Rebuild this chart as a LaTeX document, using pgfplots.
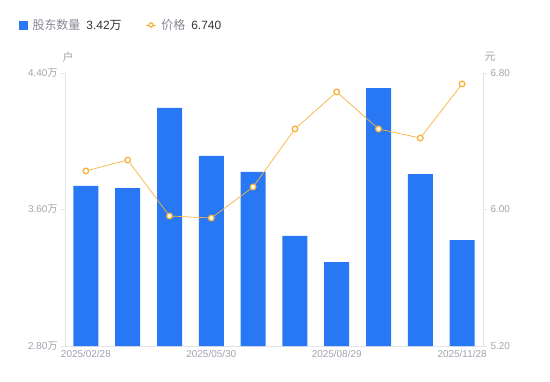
\documentclass[border=0pt]{standalone}
\usepackage{pgfplots}
\pgfplotsset{compat=1.18}
\usepackage{fontspec}
\setmainfont{Liberation Sans}
\newfontfamily\cjk{Noto Sans CJK SC}
\definecolor{barblue}{HTML}{2878F5}
\definecolor{lineorange}{HTML}{F7B23B}
\definecolor{ticklab}{HTML}{A0A3AE}
\definecolor{axline}{HTML}{E3E4E8}
\definecolor{leggray}{HTML}{858893}
\definecolor{legdark}{HTML}{333333}
\begin{document}
\begin{tikzpicture}[x=1bp,y=1bp]
\path[use as bounding box] (0,0) rectangle (550,381);
\pgfplotsset{
  common/.style={
    at={(65bp,35bp)}, anchor=south west,
    scale only axis, width=418bp, height=273bp,
    xmin=-0.5, xmax=9.5,
    xtick={0,3,6,9},
    clip=false,
    axis line style={draw=axline, line width=0.8pt},
    tick style={draw=axline, line width=0.8pt},
    major tick length=4bp,
    tick label style={font=\fontsize{10}{12}\selectfont, text=ticklab},
    /pgf/number format/assume math mode=true,
  }
}
\begin{axis}[common,
  axis y line*=left, axis x line*=bottom,
  ymin=2.8, ymax=4.4,
  ytick={2.8,3.6,4.4},
  yticklabels={2.80{\cjk 万},3.60{\cjk 万},4.40{\cjk 万}},
  xticklabels={2025/02/28,2025/05/30,2025/08/29,2025/11/28},
  x tick style={draw=none},
  xticklabel style={yshift=-1bp},
  ytick align=outside, ytick pos=left,
]
\addplot[ybar, bar width=25bp, fill=barblue, draw=none] coordinates {
(0,3.738) (1,3.726) (2,4.195) (3,3.914) (4,3.820)
(5,3.445) (6,3.292) (7,4.312) (8,3.808) (9,3.421)};
\node[font=\cjk\fontsize{11}{13}\selectfont, text=ticklab] at (rel axis cs:0,1) [yshift=16bp, xshift=3bp] {户};
\end{axis}
\begin{axis}[common,
  axis y line*=right, axis x line=none,
  ymin=5.2, ymax=6.8,
  ytick={5.2,6.0,6.8},
  yticklabels={5.20,6.00,6.80},
  ytick align=outside, ytick pos=right,
  legend style={at={(-49bp,321bp)}, anchor=west, draw=none, fill=none,
    font=\fontsize{12}{14}\selectfont, legend columns=2,
    /tikz/every even column/.append style={column sep=22bp},
    legend cell align=left},
]
\addlegendimage{area legend, legend image code/.code={\fill[barblue] (0bp,-4bp) rectangle (8bp,4bp);}}
\addlegendentry{\hspace{3bp}\textcolor{leggray}{\cjk 股东数量}\hspace{6bp}\textcolor{legdark}{3.42{\cjk 万}}}
\addplot[lineorange, line width=0.7pt, mark=*, mark size=2.8bp,
  mark options={fill=white, draw=lineorange, line width=1.3pt},
  legend image code/.code={\draw[lineorange, line width=0.8pt] (0bp,0bp) -- (10bp,0bp);
  \draw[lineorange, fill=white, line width=1.2pt] (5bp,0bp) circle (2.2bp);}]
coordinates {
(0,6.226) (1,6.290) (2,5.962) (3,5.950) (4,6.132)
(5,6.472) (6,6.689) (7,6.472) (8,6.419) (9,6.736)};
\addlegendentry{\hspace{3bp}\textcolor{leggray}{\cjk 价格}\hspace{6bp}\textcolor{legdark}{6.740}}
\node[font=\cjk\fontsize{11}{13}\selectfont, text=ticklab] at (rel axis cs:1,1) [yshift=16bp, xshift=7bp] {元};
\end{axis}
\end{tikzpicture}
\end{document}
